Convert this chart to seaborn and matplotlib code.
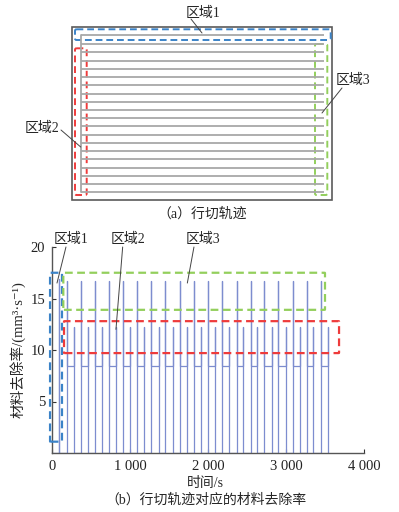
import matplotlib
matplotlib.use('Agg')
import matplotlib.pyplot as plt
from matplotlib.patches import FancyBboxPatch
import pandas as pd
import seaborn as sns

# ---- (b) material removal rate ----
slot_time = 90            # region 1: first full-width pass
slot_rate = 16.9
peak_times = [188, 369, 551, 735, 914, 1093, 1274, 1455, 1636, 1820,
              2003, 2183, 2368, 2548, 2722, 2901, 3086, 3265, 3445]
turn_times = [282, 465, 645, 826, 1004, 1185, 1366, 1547, 1728, 1910,
              2090, 2273, 2453, 2632, 2816, 3000, 3180, 3350, 3535]
peak_rate = 16.7
base_rate = 8.4
turn_rate = 12.2

# dashed regions in (b): (t0, t1, r0, r1)
region_b = {
    'blue': (-25, 128, 1.1, 17.5),
    'green': (145, 3500, 13.9, 17.5),
    'red': (154, 3680, 9.7, 12.8),
}

# ---- (a) tool path sketch, in picture pixels ----
part_box = (72, 27, 332, 200)
row_y = [35, 44, 52.3, 60.5, 68.8, 77, 85.2, 93.5, 101.7, 110, 118.2,
         126.4, 134.7, 142.9, 151.2, 159.4, 167.6, 175.9, 184.1, 192.3]
row_x = (80.7, 324.3)
region_a = {
    'blue': (75, 330.7, 29.3, 40),
    'red': (75, 86.7, 48.3, 195),
    'green': (315, 327.3, 44, 195),
}

colors = {'blue': '#3b83c8', 'green': '#93cf5c', 'red': '#ee3b3b'}

# build the rate trace
t = [0, slot_time, slot_time, slot_time]
r = [0, 0, slot_rate, 0]
for ta, tb in zip(peak_times, turn_times):
    t += [ta, ta, ta, tb, tb, tb]
    r += [0, peak_rate, base_rate, base_rate, turn_rate, 0]
trace = pd.DataFrame({'time': t, 'rate': r})

sns.set_style('ticks')
plt.rcParams['font.family'] = ['Liberation Serif', 'Noto Sans CJK SC', 'DejaVu Sans']
plt.rcParams['axes.unicode_minus'] = False

fig = plt.figure(figsize=(3.99, 5.12), dpi=100)

# overlay axes in pixel units for the sketch and captions
ov = fig.add_axes([0, 0, 1, 1])
ov.set_xlim(0, 399)
ov.set_ylim(512, 0)
ov.axis('off')

x0, y0, x1, y1 = part_box
ov.add_patch(plt.Rectangle((x0, y0), x1 - x0, y1 - y0, fill=False,
                           ec='#5a5a5a', lw=1.2))
for y in row_y:
    ov.plot(row_x, [y, y], color='#a8a8a8', lw=1.3, solid_capstyle='butt')
ov.plot([row_x[0], row_x[0]], [row_y[0], row_y[-1]], color='#a8a8a8', lw=1.3)

for name, (a0, a1, b0, b1) in region_a.items():
    ov.add_patch(FancyBboxPatch((a0, b0), a1 - a0, b1 - b0,
                                boxstyle='round,pad=0,rounding_size=1.5',
                                fill=False, ec=colors[name], lw=1.4,
                                ls=(0, (3.5, 2))))

ov.text(203, 13, '区域1', ha='center', va='center', fontsize=10)
ov.plot([191, 202], [19, 33], color='#444444', lw=0.7)
ov.text(42, 128, '区域2', ha='center', va='center', fontsize=10)
ov.plot([61, 80.7], [130, 147], color='#444444', lw=0.7)
ov.text(353, 80, '区域3', ha='center', va='center', fontsize=10)
ov.plot([342, 322], [88, 113], color='#444444', lw=0.7)
ov.text(202, 214, '（a）行切轨迹', ha='center', va='center', fontsize=10)
ov.text(206, 500, '（b）行切轨迹对应的材料去除率', ha='center', va='center', fontsize=10)

# ---- (b) chart ----
ax = fig.add_axes([52 / 399, 1 - 453 / 512, 312 / 399, 206 / 512])
ax.patch.set_alpha(0)
sns.lineplot(data=trace, x='time', y='rate', sort=False, estimator=None,
             color='#7d8dcf', lw=0.9, ax=ax)
ax.set_xlim(0, 4000)
ax.set_ylim(0, 20)
ax.set_xticks([0, 1000, 2000, 3000, 4000])
ax.set_xticklabels([f'{v:,}'.replace(',', ' ') for v in [0, 1000, 2000, 3000, 4000]])
ax.set_yticks([5, 10, 15, 20])
ax.tick_params(direction='in', length=3, width=0.8, colors='#333333',
               labelsize=10.5, labelcolor='#222222', pad=5)
for s in ['top', 'right']:
    ax.spines[s].set_visible(False)
for s in ['left', 'bottom']:
    ax.spines[s].set_color('#555555')
    ax.spines[s].set_linewidth(1.0)

for name, (a0, a1, b0, b1) in region_b.items():
    ax.add_patch(FancyBboxPatch((a0, b0), a1 - a0, b1 - b0,
                                boxstyle='round,pad=0,rounding_size=8',
                                mutation_aspect=0.005,
                                fill=False, ec=colors[name], lw=1.6,
                                ls=(0, (3.5, 2)), clip_on=False, zorder=3))

labels_b = [('区域1', 244, (179, 64), (20.0, 16.5)),
            ('区域2', 974, (906, 820), (20.0, 12.0)),
            ('区域3', 1936, (1820, 1735), (20.0, 16.5))]
for txt, tx, lx, ly in labels_b:
    ax.text(tx, 20.7, txt, ha='center', va='center', fontsize=10, clip_on=False)
    ax.plot(lx, ly, color='#444444', lw=0.7, clip_on=False, zorder=4)

ax.set_xlabel('时间/s', fontsize=10)
ax.set_ylabel('材料去除率/(mm³·s⁻¹)', fontsize=10.5)
ax.xaxis.set_label_coords(0.49, -0.115)
ax.yaxis.set_label_coords(-0.085, 0.5)

fig.savefig('out.png', dpi=100)
